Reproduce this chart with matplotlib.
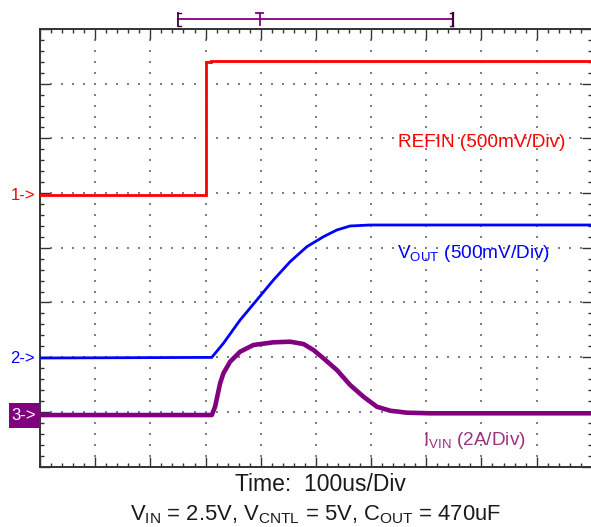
import numpy as np
import matplotlib
matplotlib.use("Agg")
import matplotlib.pyplot as plt
from matplotlib.lines import Line2D
from matplotlib.patches import Rectangle

plt.rcParams['font.family'] = ['Liberation Sans', 'DejaVu Sans']
plt.rcParams['mathtext.fontset'] = 'custom'
plt.rcParams['mathtext.rm'] = 'Liberation Sans'
plt.rcParams['mathtext.it'] = 'Liberation Sans:italic'
plt.rcParams['mathtext.bf'] = 'Liberation Sans:bold'

# ---- data (time in divisions, amplitude in divisions from bottom) ----
refin_t = [0.0, 3.0, 3.0, 3.1, 3.1, 10.0]
refin_v = [4.96, 4.96, 7.40, 7.40, 7.42, 7.42]

vout_t = [0.0, 3.113, 3.324, 3.627, 3.929, 4.23, 4.533, 4.836, 5.137, 5.38, 5.621, 5.984, 10.0]
vout_v = [1.984, 1.995, 2.253, 2.679, 3.044, 3.41, 3.745, 4.019, 4.202, 4.325, 4.398, 4.416, 4.416]

ivin_t = [0.0, 3.113, 3.173, 3.264, 3.324, 3.445, 3.627, 3.868, 4.23, 4.533, 4.774, 4.956,
          5.137, 5.38, 5.621, 5.862, 6.105, 6.346, 6.649, 7.072, 10.0]
ivin_v = [0.941, 0.941, 1.093, 1.521, 1.704, 1.916, 2.099, 2.222, 2.271, 2.282, 2.24, 2.13,
          1.978, 1.764, 1.49, 1.276, 1.093, 1.02, 0.984, 0.973, 0.973]

W, H = 591, 527
fig = plt.figure(figsize=(W / 100, H / 100), dpi=100)

def fx(x):
    return x / W

def fy(y):
    return 1 - y / H

ax_l, ax_r, ax_t, ax_b = 40, 591.8, 29, 466.5
ax = fig.add_axes([fx(ax_l), fy(ax_b), (ax_r - ax_l) / W, (ax_b - ax_t) / H])
ax.set_xlim(0, 10)
ax.set_ylim(0, 8)

# graticule dots
gcol = '#808080'
dx, dy = [], []
for gx in range(1, 10):
    for k in range(1, 40):
        dx.append(gx); dy.append(k * 0.2)
for gy in range(1, 8):
    for k in range(1, 50):
        dx.append(k * 0.2); dy.append(gy)
ax.scatter(dx, dy, s=1.6, c=gcol, marker='s', linewidths=0, zorder=1)

# traces
ax.plot(refin_t, refin_v, color='#FF0000', lw=2.0, solid_joinstyle='miter', zorder=3)
ax.plot(vout_t, vout_v, color='#0000FF', lw=2.0, zorder=3)
ax.plot(ivin_t, ivin_v, color='#800080', lw=3.3, zorder=4)

# frame & ticks
fcol = '#333333'
for s in ['left', 'top', 'bottom']:
    ax.spines[s].set_color(fcol)
    ax.spines[s].set_linewidth(1.4)
ax.spines['right'].set_visible(False)
ax.set_xticks(np.arange(0, 11, 1))
ax.set_yticks(np.arange(0, 9, 1))
ax.set_xticks(np.arange(0, 10.01, 0.2), minor=True)
ax.set_yticks(np.arange(0, 8.01, 0.2), minor=True)
ax.tick_params(which='both', direction='in', top=True, right=True,
               labelbottom=False, labelleft=False, color=fcol, width=1.0)
ax.tick_params(which='major', length=7.5)
ax.tick_params(which='minor', length=3.2)

# channel labels
fig.text(fx(398), fy(147), 'REFIN (500mV/Div)', color='#FF0000', fontsize=13.7,
         ha='left', va='baseline')
fig.text(fx(397), fy(258), r'V$_{\mathrm{OUT}}$ (500mV/Div)', color='#0000FF', fontsize=13.7,
         ha='left', va='baseline')
fig.text(fx(423), fy(445), r'I$_{\mathrm{VIN}}$ (2A/Div)', color='#993380', fontsize=13.7,
         ha='left', va='baseline')

# bottom captions
fig.text(fx(320), fy(491), 'Time:  100us/Div', color='#1a1a1a', fontsize=16.5,
         ha='center', va='baseline')
fig.text(fx(316), fy(520), r'V$_{\mathrm{IN}}$ = 2.5V, V$_{\mathrm{CNTL}}$ = 5V, C$_{\mathrm{OUT}}$ = 470uF',
         color='#1a1a1a', fontsize=15.8, ha='center', va='baseline')

# channel markers
fig.text(fx(35), fy(200), '1->', color='#FF0000', fontsize=12, ha='right', va='baseline')
fig.text(fx(35), fy(363), '2->', color='#0000FF', fontsize=12, ha='right', va='baseline')
fig.patches.append(Rectangle((fx(9), fy(428)), 30 / W, 25 / H, transform=fig.transFigure,
                             facecolor='#800080', edgecolor='none', zorder=5))
fig.text(fx(36), fy(420.5), '3->', color='white', fontsize=12, ha='right', va='baseline', zorder=6)

# trigger / record bar at top
pc = '#800080'
dc = '#400040'
def fline(xs, ys, c, lw):
    fig.add_artist(Line2D([fx(v) for v in xs], [fy(v) for v in ys], color=c, lw=lw,
                          transform=fig.transFigure))
fline([178, 453], [19, 19], pc, 1.3)
fline([178, 178], [12.5, 26], dc, 1.3)
fline([178, 181], [12.5, 12.5], dc, 1.0)
fline([178, 181], [26, 26], dc, 1.0)
fline([453, 453], [12.5, 26], dc, 1.6)
fline([450, 453], [12.5, 12.5], dc, 1.0)
fline([450, 453], [26, 26], dc, 1.0)
fline([259.5, 259.5], [13, 25], pc, 1.3)
fline([256, 263], [13, 13], pc, 1.3)

fig.savefig('out.png', dpi=100)
